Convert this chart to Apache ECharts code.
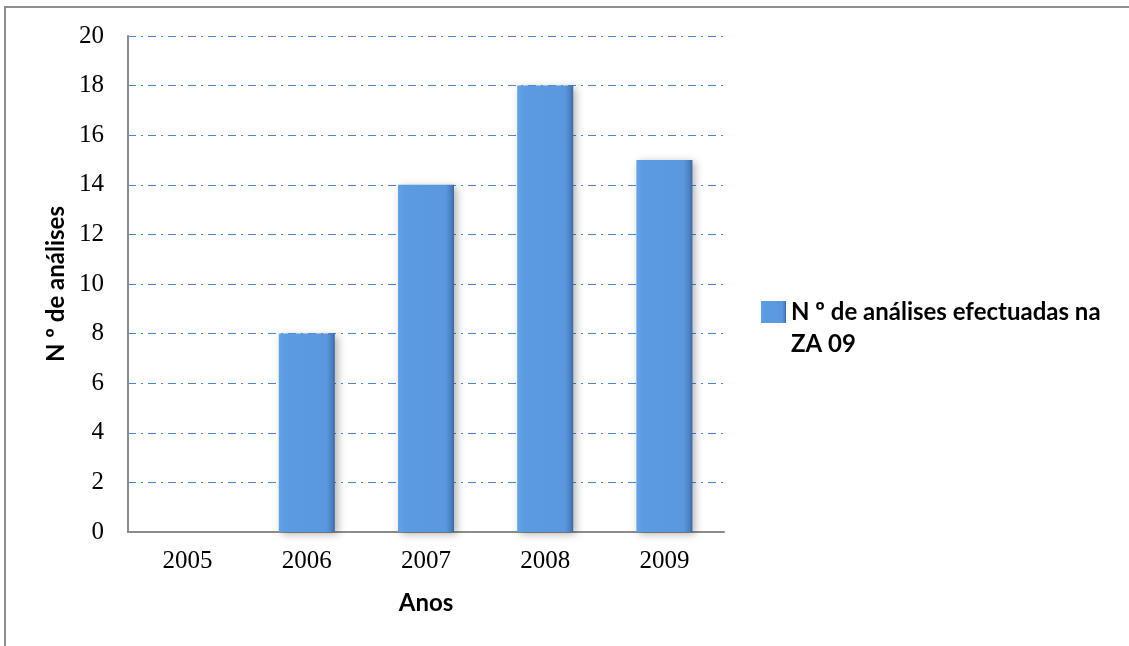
<!DOCTYPE html>
<html>
<head>
<meta charset="utf-8">
<script src="https://cdn.jsdelivr.net/npm/echarts@6/dist/echarts.min.js"></script>
<style>
  html, body { margin: 0; padding: 0; background: #fff; overflow: hidden; }
  #frame { position: absolute; left: 4px; top: 6px; width: 1200px; height: 700px; border: 2px solid #8e8e8e; box-sizing: border-box; }
  #chart { position: absolute; left: 0; top: 0; width: 1129px; height: 646px; }
</style>
</head>
<body>
<div id="frame"></div>
<div id="chart"></div>
<script>
  // dados
  const anos = ['2005', '2006', '2007', '2008', '2009'];
  const analises = [0, 8, 14, 18, 15];
  const serieNome = 'N º de análises efectuadas na ZA 09';

  const myChart = echarts.init(document.getElementById('chart'));
  const option = {
    animation: false,
    grid: { left: 128, top: 36, width: 596, height: 496 },
    legend: {
      left: 761,
      top: 264,
      padding: 0,
      orient: 'vertical',
      itemWidth: 25,
      itemHeight: 22,
      formatter: function () { return '\nN º de análises efectuadas na\nZA 09'; },
      textStyle: { fontFamily: 'Lato', fontWeight: 'bold', fontSize: 24, color: '#000', lineHeight: 32 },
      data: [{ name: serieNome, icon: 'rect' }]
    },
    xAxis: {
      type: 'category',
      data: anos,
      name: 'Anos',
      nameLocation: 'middle',
      nameGap: 59,
      nameTextStyle: { fontFamily: 'Lato', fontWeight: 'bold', fontSize: 24, color: '#000' },
      axisLine: { lineStyle: { color: '#8c8c8c', width: 2 } },
      axisTick: { show: false },
      axisLabel: { fontFamily: 'Liberation Serif', fontSize: 25, color: '#000', margin: 17 }
    },
    yAxis: {
      type: 'value',
      min: 0,
      max: 20,
      interval: 2,
      name: 'N º de análises',
      nameLocation: 'middle',
      nameGap: 56,
      nameTextStyle: { fontFamily: 'Lato', fontWeight: 'bold', fontSize: 24, color: '#000' },
      axisLine: { show: true, lineStyle: { color: '#8c8c8c', width: 2 } },
      axisTick: { show: false },
      axisLabel: { fontFamily: 'Liberation Serif', fontSize: 25, color: '#000', margin: 24 },
      splitLine: { lineStyle: { color: '#4a86d4', width: 1.2, type: [8, 5, 2, 5] } }
    },
    series: [{
      name: serieNome,
      type: 'bar',
      data: analises,
      barWidth: 56,
      itemStyle: {
        color: new echarts.graphic.LinearGradient(0, 0, 1, 0, [
          { offset: 0, color: '#62a2e8' },
          { offset: 0.12, color: '#5b9be2' },
          { offset: 0.85, color: '#5a97de' },
          { offset: 0.95, color: '#4a80c2' },
          { offset: 1, color: '#3a679e' }
        ]),
        shadowColor: 'rgba(0,0,0,0.3)',
        shadowBlur: 8,
        shadowOffsetX: 3,
        shadowOffsetY: 2
      }
    }]
  };
  myChart.setOption(option);
</script>
</body>
</html>
